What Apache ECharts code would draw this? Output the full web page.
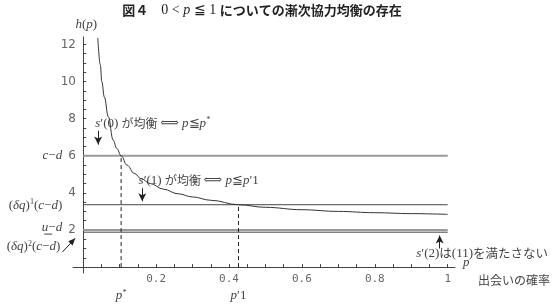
<!DOCTYPE html>
<html><head><meta charset="utf-8">
<script src="https://cdn.jsdelivr.net/npm/echarts@6/dist/echarts.min.js"></script>
<style>html,body{margin:0;padding:0;background:#fff}#c{width:554px;height:307px}</style>
</head><body><div id="c"></div>
<script>
// ---- data ----
const pCurve = [0.040, 0.047, 0.051, 0.058, 0.069, 0.082, 0.092, 0.104, 0.120, 0.140, 0.160, 0.184, 0.220, 0.260, 0.300, 0.350, 0.426, 0.500, 0.600, 0.700, 0.800, 0.900, 1.000];
const hCurve = [12.35, 10.9, 10.0, 9.16, 8.1, 6.85, 6.4, 6.0, 5.5, 5.05, 4.75, 4.5, 4.2, 3.95, 3.78, 3.6, 3.36, 3.22, 3.09, 3.0, 2.93, 2.88, 2.84];
const levelCD = 6.0;      // c-d
const levelDQ1 = 3.36;    // (δq)^1 (c-d)
const levelUD = 2.0;      // u-d
const levelDQ2 = 1.88;    // (δq)^2 (c-d)
const pStar = 0.104;      // p*
const pPrime1 = 0.426;    // p'1
const xTickLabels = [0.2, 0.4, 0.6, 0.8, 1];
const yTickLabels = [2, 4, 6, 8, 10, 12];
const xMinorTicks = [0.05,0.1,0.15,0.2,0.25,0.3,0.35,0.4,0.45,0.5,0.55,0.6,0.65,0.7,0.75,0.8,0.85,0.9,0.95,1];
const yMinorTicks = [0.5,1,1.5,2,2.5,3,3.5,4,4.5,5,5.5,6,6.5,7,7.5,8,8.5,9,9.5,10,10.5,11,11.5,12];

const chart = echarts.init(document.getElementById('c'), null, {renderer: 'canvas'});
const SERIF = '"Liberation Serif","DejaVu Serif",serif';
const JP = '"Noto Sans CJK JP",sans-serif';

function hline(y, color, width) {
  return {type: 'line', data: [[0, y], [1, y]], symbol: 'none', silent: true,
    lineStyle: {color: color, width: width}, z: 2};
}
function vdash(x, y) {
  return {type: 'line', data: [[x, 0], [x, y]], symbol: 'none', silent: true,
    lineStyle: {color: '#222', width: 1, type: [4, 3]}, z: 2};
}
function arrow(x1, y1, x2, y2) {
  return [{coord: [x1, y1]}, {coord: [x2, y2]}];
}

const option = {
  animation: false,
  grid: {left: 73, right: 99, top: 37, bottom: 34, containLabel: false},
  xAxis: {
    type: 'value', min: -0.028, max: 1.02,
    axisLine: {onZero: true, lineStyle: {color: '#444', width: 1}},
    axisTick: {show: true, inside: true, length: 3, customValues: xMinorTicks, lineStyle: {color: '#444'}},
    axisLabel: {customValues: xTickLabels, margin: 1, color: '#666',
      fontFamily: '"DejaVu Sans Mono",monospace', fontSize: 11,
      formatter: v => (v === 1 ? '1' : v.toFixed(1))},
    splitLine: {show: false}
  },
  yAxis: {
    type: 'value', min: -0.32, max: 12.4,
    axisLine: {onZero: true, lineStyle: {color: '#444', width: 1}},
    axisTick: {show: true, inside: true, length: 3, customValues: yMinorTicks, lineStyle: {color: '#444'}},
    axisLabel: {customValues: yTickLabels, margin: -3, color: '#666',
      fontFamily: '"DejaVu Sans",sans-serif', fontSize: 12},
    splitLine: {show: false}
  },
  series: [
    hline(levelCD, '#9a9a9a', 2),
    hline(levelUD, '#9a9a9a', 2),
    hline(levelDQ1, '#444', 1),
    hline(levelDQ2, '#444', 1),
    vdash(pStar, levelCD),
    vdash(pPrime1, levelDQ1),
    {type: 'line', data: pCurve.map((p, i) => [p, hCurve[i]]), symbol: 'none',
      smooth: 0.4, smoothMonotone: 'x', silent: true,
      lineStyle: {color: '#333', width: 1}, z: 3,
      markLine: {silent: true, symbol: ['none', 'arrow'], symbolSize: [6, 8],
        label: {show: false}, lineStyle: {color: '#222', width: 1, type: 'solid'},
        data: [
          arrow(0.041, 7.35, 0.041, 6.6),
          arrow(0.162, 4.25, 0.162, 3.55),
          arrow(0.978, 1.0, 0.978, 1.7)
        ]}
    }
  ]
};
chart.setOption(option);

const P = (x, y) => chart.convertToPixel({gridIndex: 0}, [x, y]);
const o = P(0, 0);
const axX = o[0];
const g = [];
function txt(x, y, rich, text, align, vAlign) {
  g.push({type: 'text', x: x, y: y, silent: true,
    style: {text: text, rich: rich, align: align || 'left', verticalAlign: vAlign || 'middle'}});
}
const richBase = {
  m: {fontFamily: SERIF, fontStyle: 'italic', fontSize: 13, fill: '#444'},
  r: {fontFamily: SERIF, fontSize: 13, fill: '#444'},
  s: {fontFamily: SERIF, fontStyle: 'italic', fontSize: 8, fill: '#444', padding: [0, 0, 6, 0]},
  sr: {fontFamily: SERIF, fontSize: 8, fill: '#444', padding: [0, 0, 6, 0]},
  j: {fontFamily: JP, fontSize: 12, fill: '#444'},
  jt: {fontFamily: JP, fontSize: 13, fontWeight: 'bold', fill: '#222'},
  mt: {fontFamily: SERIF, fontSize: 14, fill: '#222'},
  mti: {fontFamily: SERIF, fontStyle: 'italic', fontSize: 14, fill: '#222'}
};

// title
txt(262, 10, richBase, '{jt|図４　}{mt|0 < }{mti|p}{mt| ≦ 1 }{jt|についての漸次協力均衡の存在}', 'center');
// h(p)
txt(axX + 3, 25, richBase, '{m|h}{r|(}{m|p}{r|)}', 'center');
// left labels
let py = P(0, levelCD)[1];
txt(axX - 21, py, richBase, '{m|c}{r|−}{m|d}', 'right');
py = P(0, 3.55)[1];
txt(axX - 21, py + 4, richBase, '{r|(}{m|δq}{r|)}{sr|1}{r|(}{m|c}{r|−}{m|d}{r|)}', 'right');
py = P(0, 2.1)[1];
txt(axX - 21, py - 1, richBase, '{m|u}{r|−}{m|d}', 'right');
g.push({type: 'line', silent: true, shape: {x1: axX - 39, y1: py + 6, x2: axX - 31, y2: py + 6},
  style: {stroke: '#444', lineWidth: 1}});
py = P(0, 1.25)[1];
txt(axX - 23, py + 3, richBase, '{r|(}{m|δq}{r|)}{sr|2}{r|(}{m|c}{r|−}{m|d}{r|)}', 'right');
// left arrow toward the lower lines
const a1 = [axX - 21, P(0, 0.8)[1]];
const a2 = [axX - 8, P(0, 1.55)[1]];
g.push({type: 'line', silent: true, shape: {x1: a1[0], y1: a1[1], x2: a2[0], y2: a2[1]},
  style: {stroke: '#222', lineWidth: 1}});
const ang = Math.atan2(a2[1] - a1[1], a2[0] - a1[0]);
const hl = 7, hw = 3;
g.push({type: 'polygon', silent: true, shape: {points: [
  [a2[0], a2[1]],
  [a2[0] - hl * Math.cos(ang) - hw * Math.sin(ang), a2[1] - hl * Math.sin(ang) + hw * Math.cos(ang)],
  [a2[0] - hl * Math.cos(ang) + hw * Math.sin(ang), a2[1] - hl * Math.sin(ang) - hw * Math.cos(ang)]
]}, style: {fill: '#222'}});

// annotations
let pt = P(0.033, 7.75);
txt(pt[0], pt[1], richBase, '{m|s}{r|′(0) }{j|が均衡 }{r|⟺ }{m|p}{r|≦}{m|p}{s|*}', 'left');
pt = P(0.152, 4.65);
txt(pt[0], pt[1], richBase, '{m|s}{r|′(1) }{j|が均衡 }{r|⟺ }{m|p}{r|≦}{m|p}{r|′1}', 'left');
pt = P(0.9, 0.75);
txt(554 - 6, pt[1], {
  m: richBase.m, r: richBase.r,
  j: {fontFamily: JP, fontSize: 12.5, fill: '#444'}
}, '{m|s}{r|′(2)}{j|は}{r|(11)}{j|を満たさない}', 'right');
// axis name p and Japanese caption
txt(P(1.02, 0)[0] + 8, o[1] - 4, richBase, '{m|p}', 'left');
txt(550, o[1] + 13, {j: {fontFamily: JP, fontSize: 12, fill: '#444'}}, '{j|出会いの確率}', 'right');
// p* and p'1 under axis
txt(P(pStar, 0)[0], o[1] + 29, richBase, '{m|p}{s|*}', 'center');
txt(P(pPrime1, 0)[0], o[1] + 29, richBase, '{m|p}{r|′1}', 'center');

chart.setOption({graphic: g});
</script>
</body></html>
